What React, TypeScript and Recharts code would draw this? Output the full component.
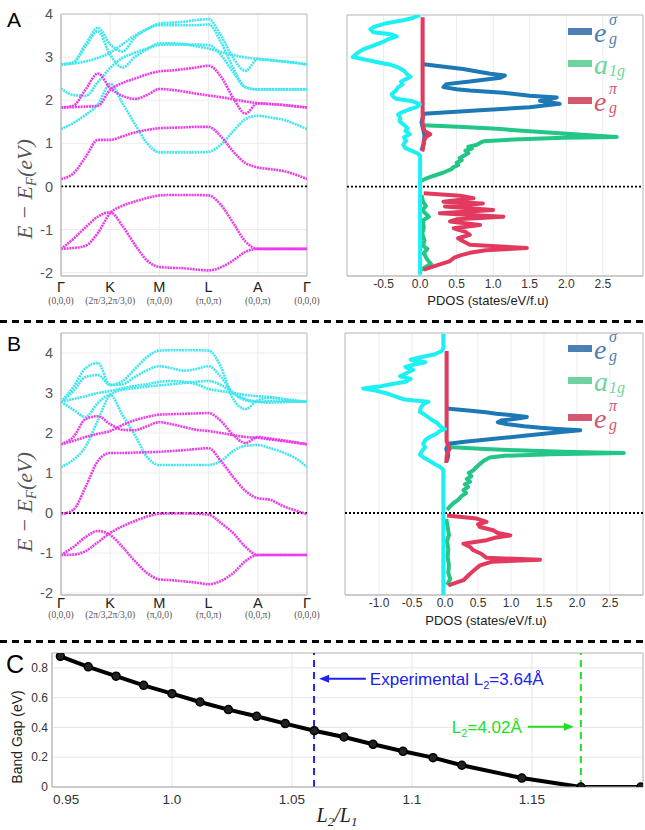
import React from 'react';
import {
  LineChart, Line, XAxis, YAxis, CartesianGrid, ReferenceLine, ReferenceArea,
  ScatterChart, Scatter,
} from 'recharts';

// k-path sample points: Γ=0, K=1, M=2, L=3, A=4, Γ=5
const K_PATH = [0, 0.25, 0.5, 0.75, 1, 1.25, 1.5, 1.75, 2, 2.25, 2.5, 2.75, 3, 3.25, 3.5, 3.75, 4, 4.25, 4.5, 4.75, 5];
const K_LABELS = ['Γ', 'K', 'M', 'L', 'A', 'Γ'];
const K_COORDS = ['(0,0,0)', '(2π/3,2π/3,0)', '(π,0,0)', '(π,0,π)', '(0,0,π)', '(0,0,0)'];
const E_TICKS = [-2, -1, 0, 1, 2, 3, 4];

// panel A bands (eV)
const A_MAG_V1 = [-1.45, -1.43, -1.38, -1.08, -0.62, -0.45, -0.35, -0.27, -0.21, -0.2, -0.2, -0.2, -0.21, -0.43, -0.85, -1.28, -1.45, -1.45, -1.45, -1.45, -1.45];
const A_MAG_V2 = [-1.45, -1.22, -0.95, -0.7, -0.6, -0.92, -1.35, -1.72, -1.87, -1.89, -1.9, -1.93, -1.95, -1.88, -1.72, -1.52, -1.45, -1.45, -1.45, -1.45, -1.45];
const A_MAG_C1 = [0.17, 0.3, 0.68, 1.08, 1.08, 1.16, 1.25, 1.31, 1.35, 1.36, 1.37, 1.38, 1.38, 1.16, 0.81, 0.54, 0.44, 0.4, 0.36, 0.28, 0.17];
const A_MAG_C2 = [1.83, 1.87, 2.25, 2.62, 2.28, 2.1, 2.03, 2.12, 2.26, 2.24, 2.2, 2.15, 2.11, 2.07, 2.02, 1.97, 1.93, 1.91, 1.89, 1.86, 1.83];
const A_MAG_C3 = [1.83, 1.84, 1.85, 1.87, 2.24, 2.4, 2.5, 2.6, 2.67, 2.69, 2.72, 2.76, 2.8, 2.55, 2.05, 1.69, 1.93, 1.91, 1.89, 1.86, 1.83];
const A_CYA_1 = [1.33, 1.47, 1.66, 1.9, 2.38, 1.93, 1.45, 1.0, 0.79, 0.79, 0.79, 0.79, 0.8, 0.97, 1.28, 1.56, 1.64, 1.6, 1.55, 1.45, 1.33];
const A_CYA_2 = [2.27, 2.12, 2.1, 2.42, 2.75, 2.98, 3.1, 3.2, 3.28, 3.29, 3.29, 3.29, 3.28, 3.05, 2.65, 2.3, 2.25, 2.25, 2.25, 2.25, 2.25];
const A_CYA_3 = [2.83, 2.88, 3.3, 3.68, 3.3, 3.13, 3.45, 3.65, 3.78, 3.8, 3.82, 3.86, 3.88, 3.5, 2.98, 2.68, 2.95, 2.93, 2.9, 2.87, 2.83];
const A_CYA_4 = [2.83, 2.87, 3.25, 3.6, 3.05, 2.76, 3.0, 3.18, 3.32, 3.32, 3.3, 3.25, 3.2, 3.12, 3.05, 2.99, 2.96, 2.93, 2.9, 2.87, 2.83];
const A_CYA_5 = [2.83, 2.85, 2.9, 2.98, 3.1, 3.3, 3.5, 3.65, 3.74, 3.74, 3.74, 3.74, 3.76, 3.35, 2.75, 2.3, 2.25, 2.25, 2.25, 2.25, 2.25];

// panel B bands (eV)
const B_MAG_V1 = [-1.05, -1.04, -0.95, -0.73, -0.5, -0.33, -0.2, -0.09, -0.02, -0.01, -0.01, -0.02, -0.04, -0.25, -0.5, -0.85, -1.05, -1.05, -1.05, -1.05, -1.05];
const B_MAG_V2 = [-1.05, -0.85, -0.6, -0.45, -0.55, -0.85, -1.2, -1.5, -1.66, -1.68, -1.71, -1.74, -1.78, -1.7, -1.5, -1.2, -1.05, -1.05, -1.05, -1.05, -1.05];
const B_MAG_C1 = [-0.03, 0.08, 0.65, 1.3, 1.5, 1.5, 1.51, 1.52, 1.53, 1.55, 1.57, 1.6, 1.62, 1.3, 0.9, 0.55, 0.37, 0.33, 0.18, 0.07, -0.03];
const B_MAG_C2 = [1.72, 1.9, 2.35, 2.42, 2.22, 2.08, 2.07, 2.17, 2.27, 2.22, 2.15, 2.08, 2.05, 2.0, 1.95, 1.9, 1.88, 1.84, 1.8, 1.76, 1.72];
const B_MAG_C3 = [1.72, 1.8, 1.9, 1.98, 2.05, 2.2, 2.32, 2.4, 2.46, 2.47, 2.48, 2.49, 2.5, 2.3, 1.95, 1.75, 1.9, 1.86, 1.82, 1.77, 1.72];
const B_CYA_1 = [2.78, 2.58, 2.4, 2.75, 2.95, 2.45, 1.95, 1.4, 1.2, 1.2, 1.2, 1.2, 1.2, 1.3, 1.55, 1.68, 1.7, 1.62, 1.52, 1.38, 1.15];
const B_CYA_2 = [1.15, 1.33, 1.66, 2.32, 2.95, 3.08, 3.12, 3.16, 3.19, 3.22, 3.25, 3.28, 3.3, 3.2, 3.0, 2.85, 2.78, 2.76, 2.77, 2.78, 2.78];
const B_CYA_3 = [2.78, 3.15, 3.62, 3.75, 3.2, 3.3, 3.6, 3.9, 4.06, 4.07, 4.07, 4.07, 4.06, 3.65, 2.85, 2.6, 2.82, 2.88, 2.85, 2.8, 2.78];
const B_CYA_4 = [2.78, 3.05, 3.4, 3.45, 3.2, 3.22, 3.4, 3.57, 3.67, 3.62, 3.56, 3.6, 3.67, 3.4, 3.0, 2.82, 2.78, 2.8, 2.8, 2.79, 2.78];
const B_CYA_5 = [2.78, 2.85, 2.92, 3.0, 3.05, 3.12, 3.18, 3.22, 3.28, 3.3, 3.28, 3.22, 3.1, 3.05, 3.0, 2.95, 2.92, 2.9, 2.85, 2.82, 2.78];

// PDOS curves, [energy (eV), dos (states/eV/f.u)]
const PDOS_A_CYAN = [
  [4.0, 0], [3.93, -0.1], [3.87, -0.25], [3.8, -0.48], [3.73, -0.62], [3.67, -0.68], [3.6, -0.64], [3.55, -0.4],
  [3.5, -0.32], [3.44, -0.43], [3.38, -0.5], [3.3, -0.62], [3.2, -0.78], [3.1, -0.87], [3.02, -0.92], [2.96, -0.75],
  [2.9, -0.58], [2.84, -0.4], [2.78, -0.3], [2.7, -0.22], [2.62, -0.18], [2.56, -0.13], [2.5, -0.2], [2.45, -0.26],
  [2.38, -0.24], [2.32, -0.3], [2.24, -0.33], [2.16, -0.39], [2.1, -0.37], [2.05, -0.33], [1.99, -0.1], [1.92, 0],
  [1.86, -0.04], [1.8, -0.15], [1.74, -0.24], [1.68, -0.3], [1.6, -0.27], [1.52, -0.28], [1.44, -0.22], [1.36, -0.17],
  [1.3, -0.2], [1.22, -0.14], [1.15, -0.22], [1.07, -0.19], [0.98, -0.23], [0.9, -0.2], [0.84, -0.12], [0.78, -0.04],
  [0.73, 0], [-2.05, 0],
];
const PDOS_A_BLUE = [
  [2.86, 0.02], [2.8, 0.3], [2.74, 0.59], [2.68, 0.8], [2.63, 0.96], [2.59, 1.16], [2.54, 1.1], [2.5, 0.9],
  [2.45, 0.68], [2.39, 0.36], [2.32, 0.32], [2.27, 0.5], [2.24, 0.68], [2.19, 1.14], [2.12, 1.5], [2.08, 1.87],
  [2.04, 1.75], [2.0, 1.64], [1.96, 1.8], [1.93, 1.91], [1.89, 1.7], [1.85, 1.5], [1.78, 0.82], [1.7, 0.05],
  [1.5, 0.02], [1.35, 0.04], [1.2, 0.06], [1.0, 0.05], [0.85, 0.02],
];
const PDOS_A_GREEN_UP = [
  [1.43, 0.05], [1.39, 0.59], [1.35, 1.05], [1.29, 1.5], [1.24, 1.96], [1.2, 2.32], [1.16, 2.69], [1.14, 1.96],
  [1.1, 1.28], [1.06, 0.87], [1.02, 0.82], [0.97, 0.77], [0.93, 0.66], [0.89, 0.71], [0.84, 0.62], [0.78, 0.66],
  [0.73, 0.61], [0.67, 0.54], [0.62, 0.57], [0.56, 0.5], [0.5, 0.52], [0.45, 0.45], [0.41, 0.43], [0.36, 0.36],
  [0.33, 0.32], [0.29, 0.25], [0.25, 0.18], [0.18, 0.07], [0.14, 0.02],
];
const PDOS_A_GREEN_LOW = [
  [-0.2, 0.02], [-0.35, 0.04], [-0.45, 0.08], [-0.55, 0.03], [-0.7, 0.12], [-0.78, 0.04], [-0.95, 0.05], [-1.1, 0.03],
  [-1.25, 0.06], [-1.38, 0.04], [-1.45, 0.1], [-1.55, 0.05], [-1.7, 0.1], [-1.8, 0.15], [-1.88, 0.06], [-1.95, 0.02],
];
const PDOS_A_RED_UP = [
  [3.95, 0.035], [1.45, 0.035], [1.3, 0.06], [1.22, 0.14], [1.16, 0.08], [1.05, 0.05], [0.9, 0.04], [0.82, 0.03],
];
const PDOS_A_RED_LOW = [
  [-0.15, 0.05], [-0.21, 0.55], [-0.27, 0.73], [-0.35, 0.32], [-0.39, 0.86], [-0.46, 0.34], [-0.54, 1.0], [-0.62, 0.27],
  [-0.7, 1.14], [-0.76, 0.5], [-0.81, 0.41], [-0.89, 0.82], [-0.97, 0.46], [-1.05, 0.62], [-1.12, 0.68], [-1.2, 0.52],
  [-1.27, 0.59], [-1.35, 0.68], [-1.43, 1.46], [-1.48, 0.9], [-1.54, 0.68], [-1.6, 0.55], [-1.66, 0.46], [-1.74, 0.4],
  [-1.81, 0.27], [-1.93, 0.05],
];

const PDOS_B_CYAN = [
  [4.48, -0.025], [4.12, -0.025], [4.05, -0.05], [3.97, -0.15], [3.9, -0.35], [3.83, -0.52], [3.77, -0.3], [3.72, -0.45],
  [3.65, -0.6], [3.58, -0.48], [3.5, -0.58], [3.42, -0.68], [3.35, -0.52], [3.28, -0.6], [3.22, -0.82], [3.16, -1.0],
  [3.11, -1.24], [3.06, -1.05], [2.98, -0.86], [2.9, -0.73], [2.84, -0.62], [2.78, -0.25], [2.72, -0.33], [2.62, -0.37],
  [2.53, -0.38], [2.45, -0.3], [2.35, -0.22], [2.25, -0.12], [2.15, -0.06], [2.1, 0], [2.05, -0.08], [1.98, -0.13],
  [1.9, -0.23], [1.82, -0.3], [1.73, -0.33], [1.64, -0.3], [1.55, -0.35], [1.46, -0.38], [1.38, -0.32], [1.3, -0.23],
  [1.22, -0.15], [1.14, -0.06], [1.07, -0.025], [-2.05, -0.025],
];
const PDOS_B_BLUE = [
  [2.61, 0.02], [2.56, 0.35], [2.52, 0.62], [2.48, 0.78], [2.44, 1.05], [2.4, 1.24], [2.36, 1.1], [2.31, 0.85],
  [2.27, 0.8], [2.22, 0.95], [2.17, 1.2], [2.13, 1.45], [2.1, 1.7], [2.07, 2.05], [2.03, 1.8], [1.98, 1.5],
  [1.93, 1.2], [1.88, 0.9], [1.83, 0.6], [1.78, 0.3], [1.73, 0.05], [1.6, 0.02], [1.45, 0.05], [1.3, 0.03],
];
const PDOS_B_GREEN_UP = [
  [1.65, 0.05], [1.6, 0.6], [1.56, 1.2], [1.53, 1.8], [1.51, 2.3], [1.5, 2.71], [1.47, 1.6], [1.43, 0.9],
  [1.39, 0.68], [1.32, 0.6], [1.23, 0.53], [1.15, 0.48], [1.07, 0.43], [1.0, 0.36], [0.92, 0.4], [0.85, 0.33],
  [0.78, 0.38], [0.72, 0.3], [0.65, 0.35], [0.57, 0.28], [0.5, 0.32], [0.42, 0.25], [0.33, 0.2], [0.25, 0.13],
  [0.17, 0.08], [0.08, 0.03],
];
const PDOS_B_GREEN_LOW = [
  [-0.15, 0.02], [-0.35, 0.04], [-0.55, 0.06], [-0.7, 0.03], [-0.9, 0.05], [-1.1, 0.04], [-1.3, 0.06], [-1.5, 0.05],
  [-1.65, 0.08], [-1.8, 0.03],
];
const PDOS_B_RED_UP = [
  [4.05, 0.025], [1.8, 0.025], [1.68, 0.05], [1.6, 0.07], [1.52, 0.04], [1.4, 0.025], [1.25, 0.02],
];
const PDOS_B_RED_LOW = [
  [-0.06, 0.03], [-0.14, 0.48], [-0.22, 0.63], [-0.28, 0.5], [-0.35, 0.53], [-0.43, 0.73], [-0.5, 0.8], [-0.56, 0.99],
  [-0.62, 0.75], [-0.68, 0.63], [-0.77, 0.28], [-0.85, 0.38], [-0.93, 0.43], [-1.02, 0.55], [-1.12, 0.63], [-1.17, 1.44],
  [-1.22, 0.7], [-1.31, 0.53], [-1.42, 0.45], [-1.52, 0.38], [-1.6, 0.33], [-1.68, 0.28], [-1.81, 0.05],
];

// panel C: band gap vs L2/L1
const RATIO = [0.9535, 0.9651, 0.9767, 0.9882, 1.0, 1.0117, 1.0235, 1.0353, 1.0472, 1.0593, 1.0717, 1.0838, 1.0963, 1.1088, 1.1208, 1.1458, 1.1704, 1.1954];
const GAP = [0.878, 0.807, 0.744, 0.683, 0.627, 0.571, 0.52, 0.475, 0.426, 0.378, 0.336, 0.287, 0.24, 0.197, 0.146, 0.06, 0.0, 0.0];
const EXP_RATIO = 1.0592;
const L402_RATIO = 1.1704;

const CYAN = '#3fe6ee';
const MAGENTA = '#ea3de8';
const P_CYAN = '#1cf0f2';
const P_BLUE = '#1d78b6';
const P_GREEN = '#22c686';
const P_RED = '#e23a5e';
const SANS = '"Liberation Sans", Arial, sans-serif';
const SERIF = '"Liberation Serif", "Times New Roman", serif';
const GRID = '#ececec';
const FRAME = '#bdbdbd';

const makeKTick = (dy1: number, dy2: number) => (props: any) => {
  const { x, y, payload } = props;
  const i = Math.round(payload.value);
  return (
    <g>
      <text x={x} y={y + dy1} textAnchor="middle" fontSize={14.5} fill="#222" fontFamily={SANS}>{K_LABELS[i]}</text>
      <text x={x} y={y + dy2} textAnchor="middle" fontSize={9.5} fill="#555" fontFamily={SERIF}>{K_COORDS[i]}</text>
    </g>
  );
};

type BandProps = {
  cyan: number[][];
  magenta: number[][];
  domain: [number, number];
  top: number;
  axisH: number;
  dy1: number;
  dy2: number;
};

const BandChart = ({ cyan, magenta, domain, top, axisH, dy1, dy2 }: BandProps) => {
  const rows = K_PATH.map((k, i) => {
    const row: Record<string, number> = { k };
    cyan.forEach((b, j) => { row['c' + j] = b[i]; });
    magenta.forEach((b, j) => { row['m' + j] = b[i]; });
    return row;
  });
  return (
    <LineChart width={330} height={310} data={rows} margin={{ top, right: 23, bottom: 0, left: 20 }}>
      <CartesianGrid stroke={GRID} />
      <XAxis dataKey="k" type="number" domain={[0, 5]} ticks={[0, 1, 2, 3, 4, 5]} interval={0}
        height={axisH} tickSize={0} tickMargin={0} axisLine={{ stroke: FRAME }} tick={makeKTick(dy1, dy2)} allowDataOverflow />
      <YAxis type="number" domain={domain} ticks={E_TICKS} interval={0} width={41} tickSize={0} tickMargin={8}
        axisLine={{ stroke: FRAME }} tick={{ fontSize: 14.5, fill: '#555', fontFamily: SANS }} allowDataOverflow />
      <ReferenceArea x1={0} x2={5} y1={domain[0]} y2={domain[1]} fill="none" stroke={FRAME} />
      <ReferenceLine y={0} stroke="#000" strokeWidth={1.8} strokeDasharray="2 2" />
      {cyan.map((_, j) => (
        <Line key={'c' + j} dataKey={'c' + j} type="monotone" stroke={CYAN} strokeWidth={2.6}
          strokeDasharray="2 0.8" dot={false} activeDot={false} isAnimationActive={false} />
      ))}
      {magenta.map((_, j) => (
        <Line key={'m' + j} dataKey={'m' + j} type="monotone" stroke={MAGENTA} strokeWidth={2.6}
          strokeDasharray="2 0.8" dot={false} activeDot={false} isAnimationActive={false} />
      ))}
    </LineChart>
  );
};

type Curve = { pts: number[][]; color: string };

const PdosChart = ({ curves, xDomain, xTicks, top, left, axisH, yDomain }: {
  curves: Curve[]; xDomain: [number, number]; xTicks: number[]; top: number; left: number; axisH: number; yDomain: [number, number];
}) => (
  <ScatterChart width={315} height={310} margin={{ top, right: 2, bottom: 0, left }}>
    <CartesianGrid stroke={GRID} />
    <XAxis dataKey="dos" type="number" domain={xDomain} ticks={xTicks} interval={0} height={axisH}
      tickSize={0} tickMargin={3} axisLine={{ stroke: FRAME }} allowDataOverflow
      tickFormatter={(v: number) => v.toFixed(1)} tick={{ fontSize: 12, fill: '#333', fontFamily: SANS }} />
    <YAxis dataKey="e" type="number" domain={yDomain} ticks={E_TICKS} interval={0} width={0}
      tick={false} axisLine={{ stroke: FRAME }} allowDataOverflow />
    <ReferenceArea x1={xDomain[0]} x2={xDomain[1]} y1={yDomain[0]} y2={yDomain[1]} fill="none" stroke={FRAME} />
    <ReferenceLine y={0} stroke="#000" strokeWidth={1.8} strokeDasharray="2 2" />
    {curves.map((c, j) => (
      <Scatter key={j} data={c.pts.map(([e, dos]) => ({ e, dos }))}
        line={{ stroke: c.color, strokeWidth: 4, strokeLinejoin: 'round' }} lineJointType="linear"
        shape={() => <g />} isAnimationActive={false} />
    ))}
  </ScatterChart>
);

const LEGEND = [
  { base: 'e', sup: 'σ', sub: 'g', color: '#4d80b2' },
  { base: 'a', sup: '', sub: '1g', color: '#6fd39f' },
  { base: 'e', sup: 'π', sub: 'g', color: '#d4576f' },
];
const LEGEND_DY = [0, 32, 69];

const PdosLegend = ({ top }: { top: number }) => (
  <g>
    {LEGEND.map((it, i) => {
      const y = top + LEGEND_DY[i];
      return (
        <g key={i}>
          <rect x={568} y={y} width={24} height={7} fill={it.color} />
          <text x={594} y={y + 14} fontFamily={SERIF} fontStyle="italic" fontSize={28} fill={it.color}>{it.base}</text>
          {it.sup && <text x={609} y={y - 3} fontFamily={SERIF} fontStyle="italic" fontSize={16} fill={it.color}>{it.sup}</text>}
          <text x={609} y={y + 16} fontFamily={SERIF} fontStyle="italic" fontSize={16} fill={it.color}>{it.sub}</text>
        </g>
      );
    })}
  </g>
);

const GapTick = (props: any) => {
  const { x, y, payload, index } = props;
  const v = payload.value;
  const label = v === 1 ? '1.0' : String(v);
  return (
    <text x={index === 0 ? x + 1 : x} y={y + 17} textAnchor={index === 0 ? 'start' : 'middle'}
      fontSize={13.5} fill="#333" fontFamily={SANS}>{label}</text>
  );
};

const ArrowShape = (color: string, text: string, sub: string, rest: string, side: 'right' | 'left') => (props: any) => {
  const { x1, y1, x2, y2 } = props;
  const dir = x2 > x1 ? 1 : -1;
  const tx = side === 'right' ? x1 + 4 : x1 - 6;
  return (
    <g>
      <line x1={x1} y1={y1} x2={x2 - dir * 8} y2={y2} stroke={color} strokeWidth={2} />
      <polygon points={`${x2},${y2} ${x2 - dir * 10},${y2 - 4} ${x2 - dir * 10},${y2 + 4}`} fill={color} />
      <text x={tx} y={y1 + 6} textAnchor={side === 'right' ? 'start' : 'end'} fontSize={17} fill={color} fontFamily={SANS}>
        {text}<tspan fontSize={11} dy={4}>{sub}</tspan><tspan dy={-4}>{rest}</tspan>
      </text>
    </g>
  );
};

const GapChart = () => {
  const rows = RATIO.map((r, i) => ({ r, gap: GAP[i] }));
  return (
    <LineChart width={645} height={190} data={rows} margin={{ top: 13, right: 2, bottom: 0, left: 30 }}>
      <CartesianGrid stroke="#e6e6e6" />
      <XAxis dataKey="r" type="number" domain={[0.95, 1.1963]} ticks={[0.95, 1, 1.05, 1.1, 1.15]} interval={0}
        height={43} tickSize={0} tickMargin={0} axisLine={{ stroke: FRAME }} tick={GapTick} allowDataOverflow />
      <YAxis type="number" domain={[0, 0.9]} ticks={[0, 0.2, 0.4, 0.6, 0.8]} interval={0} width={22}
        tickSize={0} tickMargin={4} axisLine={{ stroke: FRAME }} allowDataOverflow
        tick={{ fontSize: 12, fill: '#333', fontFamily: SANS }} tickFormatter={(v: number) => String(v)} />
      <ReferenceArea x1={0.95} x2={1.1963} y1={0} y2={0.9} fill="none" stroke={FRAME} />
      <ReferenceLine x={EXP_RATIO} stroke="#2424f0" strokeWidth={2} strokeDasharray="7 5" />
      <ReferenceLine x={L402_RATIO} stroke="#22dd22" strokeWidth={2} strokeDasharray="7 5" />
      <ReferenceLine segment={[{ x: 1.0808, y: 0.727 }, { x: 1.0613, y: 0.727 }]}
        shape={ArrowShape('#2020f0', 'Experimental L', '2', '=3.64Å', 'right')} />
      <ReferenceLine segment={[{ x: 1.1483, y: 0.404 }, { x: 1.1675, y: 0.404 }]}
        shape={ArrowShape('#1ee01e', 'L', '2', '=4.02Å', 'left')} />
      <Line dataKey="gap" type="linear" stroke="#000" strokeWidth={4}
        dot={{ r: 4, fill: '#222', stroke: '#000', strokeWidth: 1.5 }} activeDot={false} isAnimationActive={false} />
    </LineChart>
  );
};

const abs = (left: number, top: number): React.CSSProperties => ({ position: 'absolute', left, top });

export default function App() {
  const aDomain: [number, number] = [-2.08, 4];
  const bDomain: [number, number] = [-2.05, 4.5];
  return (
    <div style={{ position: 'absolute', left: 0, top: 0, width: 645, height: 830, background: '#fff', overflow: 'hidden' }}>
      <div style={abs(0, 0)}>
        <BandChart cyan={[A_CYA_1, A_CYA_2, A_CYA_3, A_CYA_4, A_CYA_5]} magenta={[A_MAG_V1, A_MAG_V2, A_MAG_C1, A_MAG_C2, A_MAG_C3]}
          domain={aDomain} top={14} axisH={34} dy1={16} dy2={28} />
      </div>
      <div style={abs(330, 0)}>
        <PdosChart xDomain={[-1.0, 3.05]} xTicks={[-0.5, 0, 0.5, 1, 1.5, 2, 2.5]} top={15} left={17} axisH={34} yDomain={aDomain}
          curves={[
            { pts: PDOS_A_BLUE, color: P_BLUE }, { pts: PDOS_A_GREEN_UP, color: P_GREEN }, { pts: PDOS_A_GREEN_LOW, color: P_GREEN },
            { pts: PDOS_A_RED_UP, color: P_RED }, { pts: PDOS_A_RED_LOW, color: P_RED }, { pts: PDOS_A_CYAN, color: P_CYAN },
          ]} />
      </div>
      <div style={abs(0, 320)}>
        <BandChart cyan={[B_CYA_1, B_CYA_2, B_CYA_3, B_CYA_4, B_CYA_5]} magenta={[B_MAG_V1, B_MAG_V2, B_MAG_C1, B_MAG_C2, B_MAG_C3]}
          domain={bDomain} top={13} axisH={35} dy1={13} dy2={23} />
      </div>
      <div style={abs(330, 320)}>
        <PdosChart xDomain={[-1.515, 3.0]} xTicks={[-1, -0.5, 0, 0.5, 1, 1.5, 2, 2.5]} top={13} left={15} axisH={35} yDomain={bDomain}
          curves={[
            { pts: PDOS_B_BLUE, color: P_BLUE }, { pts: PDOS_B_GREEN_UP, color: P_GREEN }, { pts: PDOS_B_GREEN_LOW, color: P_GREEN },
            { pts: PDOS_B_RED_UP, color: P_RED }, { pts: PDOS_B_RED_LOW, color: P_RED }, { pts: PDOS_B_CYAN, color: P_CYAN },
          ]} />
      </div>
      <div style={abs(0, 640)}>
        <GapChart />
      </div>

      {/* labels, legends and separators */}
      <svg width={645} height={830} style={{ position: 'absolute', left: 0, top: 0, pointerEvents: 'none' }}>
        <text x={7} y={27} fontSize={21} fontFamily={SANS} fill="#000">A</text>
        <text x={7} y={351} fontSize={21} fontFamily={SANS} fill="#000">B</text>
        <text x={6} y={673} fontSize={25} fontFamily={SANS} fill="#000">C</text>

        <line x1={0} y1={321.5} x2={645} y2={321.5} stroke="#000" strokeWidth={3} strokeDasharray="7 5" />
        <line x1={0} y1={641.5} x2={645} y2={641.5} stroke="#000" strokeWidth={3} strokeDasharray="7 5" />

        {[189, 502].map((cy, i) => (
          <text key={i} x={32} y={cy} transform={`rotate(-90 32 ${cy})`} textAnchor="middle"
            fontFamily={SERIF} fontStyle="italic" fontSize={22} fill="#555">
            E − E<tspan fontSize={15} dy={4}>F</tspan><tspan dy={-4}>(eV)</tspan>
          </text>
        ))}

        <text x={488} y={305} textAnchor="middle" fontSize={13} fontFamily={SANS} fill="#222">PDOS (states/eV/f.u)</text>
        <text x={486} y={625} textAnchor="middle" fontSize={13} fontFamily={SANS} fill="#222">PDOS (states/eV/f.u)</text>

        <PdosLegend top={28} />
        <PdosLegend top={345} />

        <text x={22} y={737} transform="rotate(-90 22 737)" textAnchor="middle" fontSize={14} fontFamily={SANS} fill="#222">Band Gap (eV)</text>
        <text x={337} y={822} textAnchor="middle" fontSize={20} fontFamily={SERIF} fontStyle="italic" fill="#222">
          L<tspan fontSize={13} dy={4}>2</tspan><tspan dy={-4}>/L</tspan><tspan fontSize={13} dy={4}>1</tspan>
        </text>
      </svg>
    </div>
  );
}
